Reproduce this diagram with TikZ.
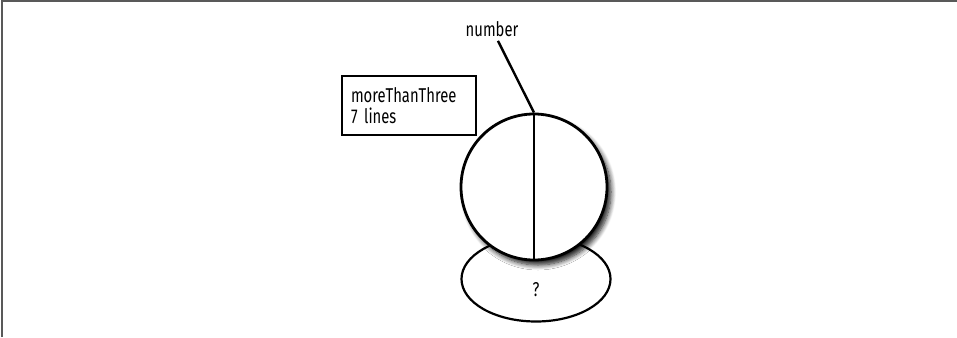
\documentclass[tikz,border=0pt]{standalone}
\usepackage{fontspec}
\setmainfont[FakeStretch=0.74]{Fira Sans}
\usepackage{xcolor}
\usepackage{tikz}
\usetikzlibrary{shapes.geometric, shadows.blur}
\definecolor{frame-gray}{gray}{.35}
\tikzstyle{varbox} = [rectangle, draw=black, line width=2.4pt, fill=white,
    minimum width=134pt, minimum height=59pt, text width=116pt, align=left,
    font=\fontsize{20}{21}\selectfont]
\tikzstyle{ball} = [circle, draw=black, line width=2.8pt, fill=white,
    minimum size=146pt, inner sep=0pt,
    blur shadow={shadow xshift=4pt, shadow yshift=-5pt, shadow blur radius=5pt, shadow blur steps=8, shadow opacity=90}]
\tikzstyle{guess} = [ellipse, draw=black, line width=2.2pt, fill=white,
    minimum width=149pt, minimum height=85pt, inner sep=0pt]
\tikzstyle{tag} = [font=\fontsize{20}{21}\selectfont, inner sep=4pt]
\tikzstyle{wire} = [line width=2.4pt]

\begin{document}
\begin{tikzpicture}[x=1pt, y=-1pt]

    \useasboundingbox (0,0) rectangle (957,337);

% ===============================
    % 1. NODES
    % ===============================

    % Frame
    \draw[frame-gray, line width=1.5pt] (2,337) |- (957,1);

    % Bottom ellipse (drawn first, partly hidden)
    \node[guess, label={[yshift=-11pt, font=\fontsize{20}{21}\selectfont]center:?}] (hole) at (536, 279) {};

    % Circle with the value
    \node[ball] (numball) at (534, 187) {};

    % Variable box
    \node[varbox] (morebox) at (409, 105.5) {
        moreThanThree\\7 lines
    };

    % Label on top
    \node[tag] (numlabel) at (492, 29) {number};

    % ===============================
    % 2. CONNECTIONS
    % ===============================

    \draw[wire] (numball.north) -- (numball.south);
    \draw[wire] (numlabel) -- (numball.north);

\end{tikzpicture}
\end{document}
